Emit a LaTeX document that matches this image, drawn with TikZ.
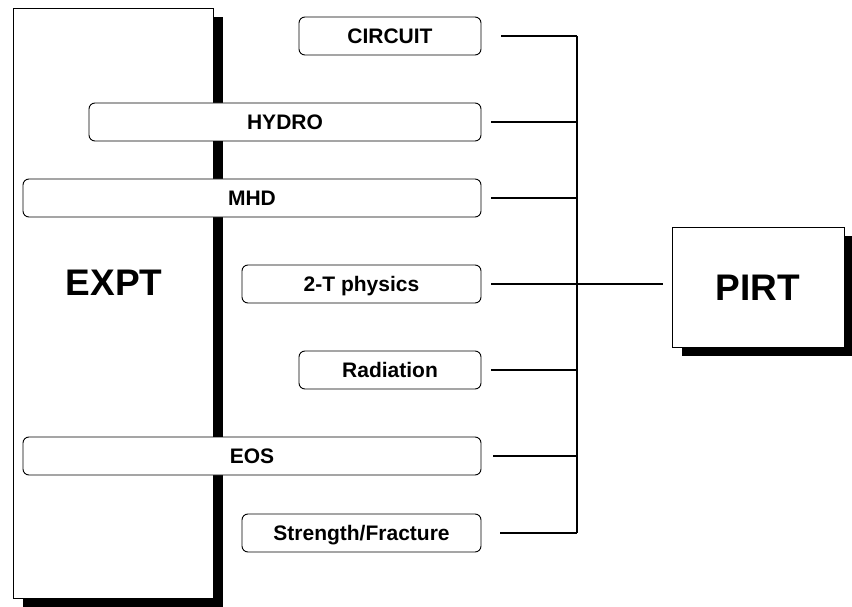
\documentclass[tikz,border=0pt]{standalone}
\usepackage{fontspec}
\setmainfont{Liberation Sans}
\usetikzlibrary{shadows}

\begin{document}
\begin{tikzpicture}[x=1pt,y=-1pt,
  topic/.style={draw,fill=white,rounded corners=6pt,line width=0.9pt,minimum height=38pt,inner sep=0pt,
    text height=15pt,text depth=0pt,font=\fontsize{21}{25}\selectfont\bfseries},
  bigbox/.style={draw,fill=white,line width=0.9pt,inner sep=0pt,
    drop shadow={shadow xshift=10pt,shadow yshift=-9pt,opacity=1,fill=black}},
  biglabel/.style={inner sep=0pt,text height=27pt,text depth=0pt,font=\fontsize{37}{44}\selectfont\bfseries},
  link/.style={line width=1.1pt}]
\useasboundingbox (0,0) rectangle (852,607);
% left and right blocks
\node[bigbox,minimum width=200pt,minimum height=590pt] (expt) at (113,303) {};
\node[biglabel] (exptlabel) at (114,282) {EXPT};
\node[bigbox,minimum width=172pt,minimum height=120pt] (pirt) at (758,287) {};
\node[biglabel] (pirtlabel) at (pirt.center) {PIRT};
% topics
\node[topic,minimum width=182pt] (circuit) at (390,36) {CIRCUIT};
\node[topic,minimum width=392pt] (hydro) at (285,122) {HYDRO};
\node[topic,minimum width=458pt] (mhd) at (252,198) {MHD};
\node[topic,minimum width=239pt] (twot) at (361.5,284) {2-T physics};
\node[topic,minimum width=182pt] (rad) at (390,370) {Radiation};
\node[topic,minimum width=458pt] (eos) at (252,456) {EOS};
\node[topic,minimum width=239pt] (strength) at (361.5,533) {Strength/Fracture};
% bus
\coordinate (bustop) at (577,36);
\coordinate (busbot) at (577,533);
\draw[link] (bustop) -- (busbot);
\draw[link] ([xshift=20pt]circuit.east) -- (circuit.east -| bustop);
\draw[link] ([xshift=10pt]hydro.east) -- (hydro.east -| bustop);
\draw[link] ([xshift=10pt]mhd.east) -- (mhd.east -| bustop);
\draw[link] ([xshift=10pt]twot.east) -- ([xshift=-9pt]twot.east -| pirt.west);
\draw[link] ([xshift=10pt]rad.east) -- (rad.east -| bustop);
\draw[link] ([xshift=12pt]eos.east) -- (eos.east -| bustop);
\draw[link] ([xshift=19pt]strength.east) -- (strength.east -| bustop);
\end{tikzpicture}
\end{document}
